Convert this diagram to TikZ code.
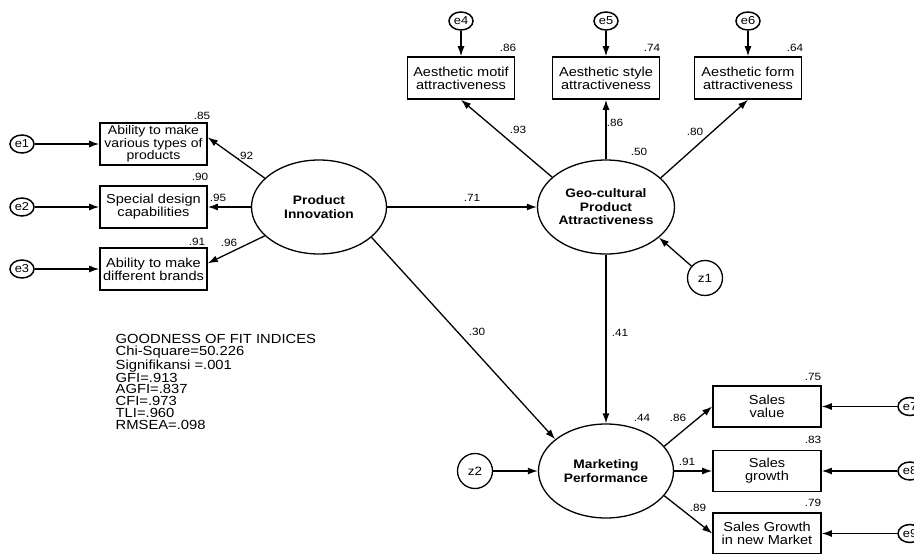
\documentclass[tikz,border=0pt]{standalone}
\usepackage{fontspec}
\setmainfont{Liberation Sans}[FakeStretch=1.12]
\usetikzlibrary{shapes.geometric,arrows.meta}
\begin{document}
\begin{tikzpicture}[x=1pt,y=-1pt,line width=1.3pt,
    >={Latex[length=10pt,width=7pt]},
    obs/.style={draw,rectangle,line width=1.6pt,minimum width=107pt,minimum height=42pt,inner sep=0pt,align=center,font=\fontsize{13}{13}\selectfont},
    latent/.style={draw,ellipse,minimum width=135pt,minimum height=94pt,inner sep=0pt,align=center,font=\bfseries\fontsize{12.3}{13.5}\selectfont},
    err/.style={draw,ellipse,line width=1.5pt,minimum width=24pt,minimum height=18pt,inner sep=0pt,font=\fontsize{11.5}{11.5}\selectfont},
    dist/.style={draw,circle,minimum size=35pt,inner sep=0pt,font=\fontsize{12}{12}\selectfont},
    coef/.style={inner sep=0pt,font=\fontsize{10.5}{10.5}\selectfont}]
      \useasboundingbox (0,0) rectangle (914,554);
      \clip (0,0) rectangle (914,554);
      % indicators of product innovation
      \node[err] (e1) at (22,144) {e1};
      \node[err] (e2) at (22,207) {e2};
      \node[err] (e3) at (22,269) {e3};
      \node[obs,font=\fontsize{12.5}{12.3}\selectfont] (b1) at (153.5,144) {Ability to make\\various types of\\products};
      \node[obs] (b2) at (153.5,207) {Special design\\capabilities};
      \node[obs] (b3) at (153.5,269) {Ability to make\\different brands};
      % latent variables
      \node[latent] (PI) at (319,207) {Product\\Innovation};
      \node[latent,minimum width=137pt] (Geo) at (606,207) {Geo-cultural\\Product\\Attractiveness};
      \node[latent] (MP) at (606,471) {Marketing\\Performance};
      \node[dist] (z1) at (705,278) {z1};
      \node[dist] (z2) at (475,471) {z2};
      % indicators of attractiveness
      \node[obs] (m1) at (461,78) {Aesthetic motif\\attractiveness};
      \node[obs] (m2) at (606,78) {Aesthetic style\\attractiveness};
      \node[obs] (m3) at (748,78) {Aesthetic form\\attractiveness};
      \node[err] (e4) at (461,21) {e4};
      \node[err] (e5) at (606,21) {e5};
      \node[err] (e6) at (748,21) {e6};
      % indicators of marketing performance
      \node[obs,minimum width=108pt,minimum height=41pt] (s1) at (767,406.5) {Sales\\value};
      \node[obs,minimum width=108pt,minimum height=41pt] (s2) at (767,471) {Sales\\growth};
      \node[obs,minimum width=108pt,minimum height=41pt] (s3) at (767,533.5) {Sales Growth\\in new Market};
      \node[err] (e7) at (910,406.5) {e7};
      \node[err] (e8) at (910,471) {e8};
      \node[err] (e9) at (910,533.5) {e9};
      % paths
      \foreach \e/\b in {e1/b1,e2/b2,e3/b3,e4/m1,e5/m2,e6/m3,e7/s1,e8/s2,e9/s3}
        \draw[->] (\e) -- (\b);
      \draw[->] (PI.152) -- (b1.7);
      \draw[->] (PI) -- (b2);
      \draw[->] (PI.208) -- (b3.6);
      \draw[->] (PI) -- (Geo);
      \draw[->] (PI.-30) -- (MP.148);
      \draw[->] (Geo) -- (MP);
      \draw[->] (z1) -- (Geo.-30);
      \draw[->] (z2) -- (MP);
      \draw[->] (Geo.151) -- (m1.south);
      \draw[->] (Geo) -- (m2);
      \draw[->] (Geo.28) -- (m3.south);
      \draw[->] (MP.23) -- (s1.west);
      \draw[->] (MP) -- (s2);
      \draw[->] (MP.-23) -- (s3.west);
      % estimates
      \node[coef] (r1) at (202,116) {.85};
      \node[coef] (r2) at (200,177) {.90};
      \node[coef] (r3) at (197,242) {.91};
      \node[coef] (l1) at (245,156) {.92};
      \node[coef] (l2) at (218,198) {.95};
      \node[coef] (l3) at (229,243) {.96};
      \node[coef] (r4) at (508,48) {.86};
      \node[coef] (r5) at (652,48) {.74};
      \node[coef] (r6) at (795,48) {.64};
      \node[coef] (l4) at (518,130) {.93};
      \node[coef] (l5) at (615,123) {.86};
      \node[coef] (l6) at (695,132) {.80};
      \node[coef] (rg) at (639,152) {.50};
      \node[coef] (p1) at (472,198) {.71};
      \node[coef] (p2) at (477,332) {.30};
      \node[coef] (p3) at (620,333) {.41};
      \node[coef] (rm) at (642,418) {.44};
      \node[coef] (l7) at (678,418) {.86};
      \node[coef] (l8) at (687,462) {.91};
      \node[coef] (l9) at (698,508) {.89};
      \node[coef] (r7) at (813,377) {.75};
      \node[coef] (r8) at (813,440) {.83};
      \node[coef] (r9) at (813,503) {.79};
      % fit indices
      \node[anchor=north west,align=left,inner sep=0pt,font=\fontsize{13.2}{11.9}\selectfont] (gof) at (115,334)
        {GOODNESS OF FIT INDICES\\Chi-Square=50.226\\Signifikansi =.001\\GFI=.913\\AGFI=.837\\CFI=.973\\TLI=.960\\RMSEA=.098};
\end{tikzpicture}
\end{document}
